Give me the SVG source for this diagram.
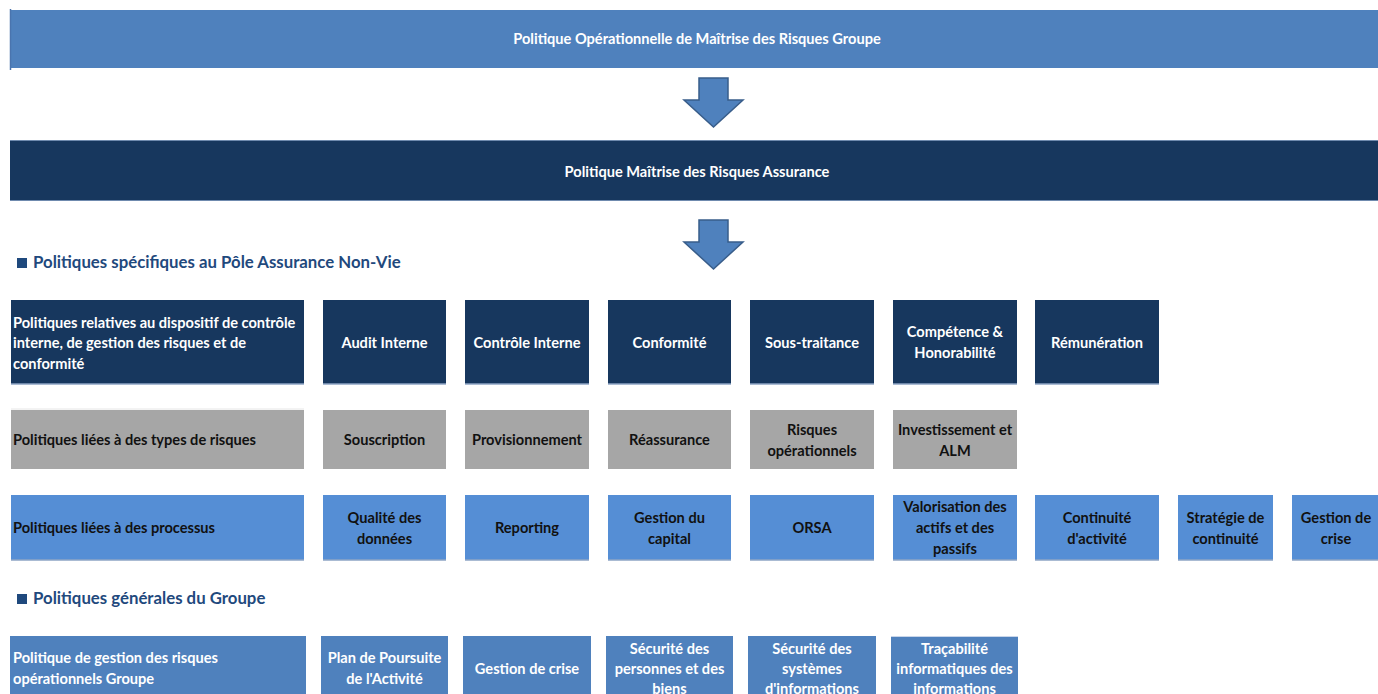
<svg xmlns="http://www.w3.org/2000/svg" width="1378" height="694" viewBox="0 0 1378 694">
<style>
text{font-family:Lato,"Liberation Sans",sans-serif;font-weight:bold;font-size:14.6px}
.c{text-anchor:middle}
.w{fill:#ffffff}
.k{fill:#111111}
.r1{fill:#17375E}
.r2{fill:#A6A6A6}
.r3{fill:#558ED5}
.r4{fill:#4F81BD}
.h{fill:#1F497D;font-size:16.8px}
.edge{stroke:#8EA4C4;stroke-width:1.5}
.arrow{fill:#4F81BD;stroke:#385D8A;stroke-width:1.5}
</style>
<defs>
<path id="arr" class="arrow" d="M699,78 H728 V100 H743 L713.5,127 L684,100 H699 Z"/>
</defs>
<rect width="1378" height="694" fill="#ffffff"/>

<g id="banner-groupe">
<rect x="10" y="10" width="1368" height="58" class="r4"/>
<line x1="10.5" y1="9" x2="10.5" y2="70" stroke="#4A74AE" stroke-width="1.5"/>
<text x="697" y="44" class="c w">Politique Opérationnelle de Maîtrise des Risques Groupe</text>
</g>

<g id="banner-assurance">
<rect x="10" y="140" width="1368" height="61" class="r1"/>
<line x1="10" y1="140.5" x2="1378" y2="140.5" stroke="#6F8AAE" stroke-width="1"/>
<line x1="10" y1="200.5" x2="1378" y2="200.5" stroke="#6F8AAE" stroke-width="1"/>
<text x="697" y="177" class="c w">Politique Maîtrise des Risques Assurance</text>
</g>

<g id="connectors">
<use href="#arr"/>
<use href="#arr" transform="translate(0,142)"/>
</g>

<g id="heading-specifiques">
<rect x="17" y="258" width="10" height="10" fill="#1F497D"/>
<text x="33" y="268" class="h">Politiques spécifiques au Pôle Assurance Non-Vie</text>
</g>

<!-- Row 1 -->
<g id="r1-dispositif">
<rect x="11" y="300" width="293" height="84" class="r1"/>
<line x1="11" y1="384" x2="304" y2="384" class="edge"/>
<text x="13" y="328" class="w">Politiques relatives au dispositif de contrôle</text>
<text x="13" y="348" class="w">interne, de gestion des risques et de</text>
<text x="13" y="369" class="w">conformité</text>
</g>
<g id="r1-audit">
<rect x="323" y="300" width="123" height="84" class="r1"/>
<line x1="323" y1="384" x2="446" y2="384" class="edge"/>
<text x="384.5" y="348" class="c w">Audit Interne</text>
</g>
<g id="r1-controle">
<rect x="465" y="300" width="124" height="84" class="r1"/>
<line x1="465" y1="384" x2="589" y2="384" class="edge"/>
<text x="527" y="348" class="c w">Contrôle Interne</text>
</g>
<g id="r1-conformite">
<rect x="608" y="300" width="123" height="84" class="r1"/>
<line x1="608" y1="384" x2="731" y2="384" class="edge"/>
<text x="669.5" y="348" class="c w">Conformité</text>
</g>
<g id="r1-soustraitance">
<rect x="750" y="300" width="124" height="84" class="r1"/>
<line x1="750" y1="384" x2="874" y2="384" class="edge"/>
<text x="812" y="348" class="c w">Sous-traitance</text>
</g>
<g id="r1-competence">
<rect x="893" y="300" width="124" height="84" class="r1"/>
<line x1="893" y1="384" x2="1017" y2="384" class="edge"/>
<text x="955" y="337" class="c w">Compétence &amp;</text>
<text x="955" y="358" class="c w">Honorabilité</text>
</g>
<g id="r1-remuneration">
<rect x="1035" y="300" width="124" height="84" class="r1"/>
<line x1="1035" y1="384" x2="1159" y2="384" class="edge"/>
<text x="1097" y="348" class="c w">Rémunération</text>
</g>

<!-- Row 2 -->
<g id="r2-types">
<rect x="11" y="410" width="293" height="59" class="r2"/>
<line x1="11" y1="409" x2="304" y2="409" stroke="#E6E6E6" stroke-width="1"/>
<text x="13" y="445" class="k">Politiques liées à des types de risques</text>
</g>
<g id="r2-souscription">
<rect x="323" y="410" width="123" height="59" class="r2"/>
<text x="384.5" y="445" class="c k">Souscription</text>
</g>
<g id="r2-provisionnement">
<rect x="465" y="410" width="124" height="59" class="r2"/>
<text x="527" y="445" class="c k">Provisionnement</text>
</g>
<g id="r2-reassurance">
<rect x="608" y="410" width="123" height="59" class="r2"/>
<text x="669.5" y="445" class="c k">Réassurance</text>
</g>
<g id="r2-risquesop">
<rect x="750" y="410" width="124" height="59" class="r2"/>
<text x="812" y="435" class="c k">Risques</text>
<text x="812" y="456" class="c k">opérationnels</text>
</g>
<g id="r2-investissement">
<rect x="893" y="410" width="124" height="59" class="r2"/>
<text x="955" y="435" class="c k">Investissement et</text>
<text x="955" y="456" class="c k">ALM</text>
</g>

<!-- Row 3 -->
<g id="r3-processus">
<rect x="11" y="495" width="293" height="65" class="r3"/>
<line x1="11" y1="560" x2="304" y2="560" class="edge"/>
<text x="13" y="533" class="k">Politiques liées à des processus</text>
</g>
<g id="r3-qualite">
<rect x="323" y="495" width="123" height="65" class="r3"/>
<line x1="323" y1="560" x2="446" y2="560" class="edge"/>
<text x="384.5" y="523" class="c k">Qualité des</text>
<text x="384.5" y="544" class="c k">données</text>
</g>
<g id="r3-reporting">
<rect x="465" y="495" width="124" height="65" class="r3"/>
<line x1="465" y1="560" x2="589" y2="560" class="edge"/>
<text x="527" y="533" class="c k">Reporting</text>
</g>
<g id="r3-capital">
<rect x="608" y="495" width="123" height="65" class="r3"/>
<line x1="608" y1="560" x2="731" y2="560" class="edge"/>
<text x="669.5" y="523" class="c k">Gestion du</text>
<text x="669.5" y="544" class="c k">capital</text>
</g>
<g id="r3-orsa">
<rect x="750" y="495" width="124" height="65" class="r3"/>
<line x1="750" y1="560" x2="874" y2="560" class="edge"/>
<text x="812" y="533" class="c k">ORSA</text>
</g>
<g id="r3-valorisation">
<rect x="893" y="495" width="124" height="65" class="r3"/>
<line x1="893" y1="560" x2="1017" y2="560" class="edge"/>
<text x="955" y="512" class="c k">Valorisation des</text>
<text x="955" y="533" class="c k">actifs et des</text>
<text x="955" y="554" class="c k">passifs</text>
</g>
<g id="r3-continuite">
<rect x="1035" y="495" width="124" height="65" class="r3"/>
<line x1="1035" y1="560" x2="1159" y2="560" class="edge"/>
<text x="1097" y="523" class="c k">Continuité</text>
<text x="1097" y="544" class="c k">d'activité</text>
</g>
<g id="r3-strategie">
<rect x="1178" y="495" width="95" height="65" class="r3"/>
<line x1="1178" y1="560" x2="1273" y2="560" class="edge"/>
<text x="1225.5" y="523" class="c k">Stratégie de</text>
<text x="1225.5" y="544" class="c k">continuité</text>
</g>
<g id="r3-crise">
<rect x="1292" y="495" width="86" height="65" class="r3"/>
<line x1="1292" y1="560" x2="1378" y2="560" class="edge"/>
<text x="1336" y="523" class="c k">Gestion de</text>
<text x="1336" y="544" class="c k">crise</text>
</g>

<g id="heading-generales">
<rect x="17" y="594" width="10" height="10" fill="#1F497D"/>
<text x="33" y="604" class="h">Politiques générales du Groupe</text>
</g>

<!-- Row 4 -->
<g id="r4-risquesop">
<rect x="10" y="636" width="296" height="58" class="r4"/>
<text x="13" y="663" class="w">Politique de gestion des risques</text>
<text x="13" y="684" class="w">opérationnels Groupe</text>
</g>
<g id="r4-ppa">
<rect x="321" y="636" width="127" height="58" class="r4"/>
<text x="384.5" y="663" class="c w">Plan de Poursuite</text>
<text x="384.5" y="684" class="c w">de l'Activité</text>
</g>
<g id="r4-crise">
<rect x="463" y="636" width="128" height="58" class="r4"/>
<text x="527" y="674" class="c w">Gestion de crise</text>
</g>
<g id="r4-personnes">
<rect x="606" y="636" width="127" height="58" class="r4"/>
<text x="669.5" y="654" class="c w">Sécurité des</text>
<text x="669.5" y="674" class="c w">personnes et des</text>
<text x="669.5" y="694" class="c w">biens</text>
</g>
<g id="r4-systemes">
<rect x="748" y="636" width="128" height="58" class="r4"/>
<text x="812" y="654" class="c w">Sécurité des</text>
<text x="812" y="674" class="c w">systèmes</text>
<text x="812" y="694" class="c w">d'informations</text>
</g>
<g id="r4-tracabilite">
<rect x="891" y="636" width="127" height="58" class="r4"/>
<line x1="891" y1="636.5" x2="1018" y2="636.5" stroke="#C9D6EA" stroke-width="1"/>
<text x="954.5" y="654" class="c w">Traçabilité</text>
<text x="954.5" y="674" class="c w">informatiques des</text>
<text x="954.5" y="694" class="c w">informations</text>
</g>
</svg>
